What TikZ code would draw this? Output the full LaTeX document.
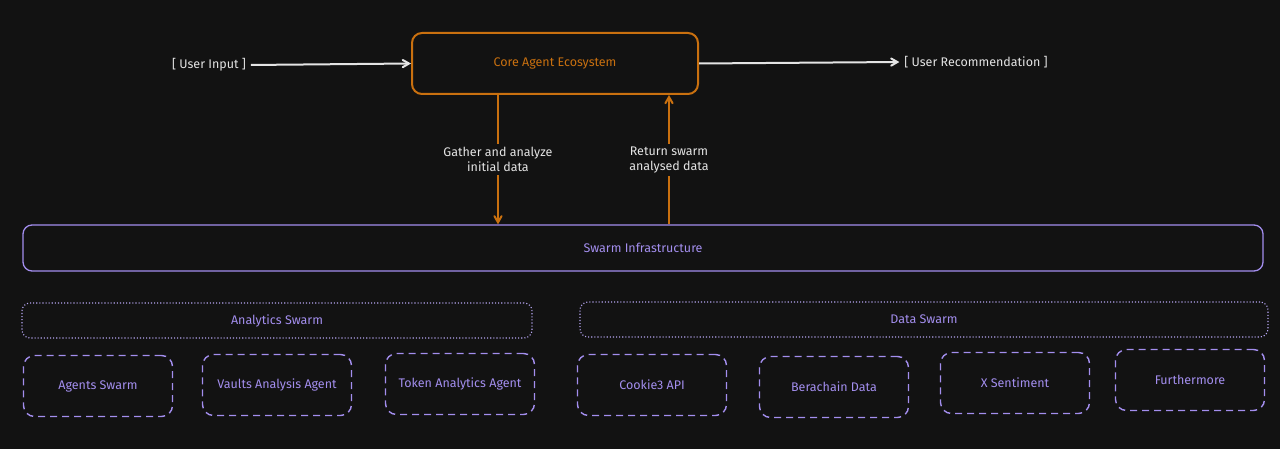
\documentclass[tikz,border=0pt]{standalone}
\usepackage{fontspec}
\setmainfont{Fira Sans}
\usetikzlibrary{%
  arrows,%
  positioning% wg. " of "
}
\definecolor{bgdark}{HTML}{121212}
\definecolor{coreorange}{HTML}{C9700F}
\definecolor{swarmviolet}{HTML}{A38EEE}
\definecolor{inkwhite}{HTML}{E4E4E4}

\begin{document}
\begin{tikzpicture}[
  x=1pt, y=-1pt,
  font=\fontsize{12.5}{15}\selectfont,
  >=angle 60,
  line width=1.2pt,
  corebox/.style={draw=coreorange, text=coreorange, line width=2pt,
    rounded corners=10pt, minimum width=286pt, minimum height=61pt},
  infrabox/.style={draw=swarmviolet, text=swarmviolet, line width=1.3pt,
    rounded corners=9pt, minimum width=1240pt, minimum height=46pt},
  groupbox/.style={draw=swarmviolet!80, text=swarmviolet, dotted, line width=1.1pt,
    rounded corners=8pt, minimum height=35pt},
  agentbox/.style={draw=swarmviolet, text=swarmviolet, line width=1.4pt,
    dash pattern=on 7pt off 5pt, rounded corners=11pt,
    minimum width=149pt, minimum height=61pt},
  endlabel/.style={text=inkwhite},
  flowlabel/.style={text=inkwhite, fill=bgdark, align=center, inner sep=3pt},
]

\fill[bgdark] (0,0) rectangle (1280,449);

% top row
\node[corebox] (core) at (555,63.5) {Core Agent Ecosystem};
\node[endlabel] (userin) at (209,65) {[ User Input ]};
\node[endlabel] (userrec) at (976,62) {[ User Recommendation ]};

\draw[->, inkwhite, line width=2pt, shorten <=1pt] (userin.east) -- (core.west);
\draw[->, inkwhite, line width=2pt, shorten >=1pt] (core.east) -- (userrec.west);

% swarm layer
\node[infrabox] (infra) at (643,248) {Swarm Infrastructure};

\draw[->, coreorange, line width=2pt] ([xshift=-57pt]core.south)
  -- node[flowlabel] {Gather and analyze\\initial data}
  ([xshift=-57pt]core.south |- infra.north);
\draw[->, coreorange, line width=2pt] ([xshift=114pt]core.south |- infra.north)
  -- node[flowlabel] {Return swarm\\analysed data}
  ([xshift=114pt]core.south);

% groups
\node[groupbox, minimum width=510pt] (analytics) at (277,320.5) {Analytics Swarm};
\node[groupbox, minimum width=688pt] (dataswarm) at (924,319.5) {Data Swarm};

% agents
\foreach \name/\xc/\yc/\txt in {%
  agents/98/386/Agents Swarm,%
  vaults/277/385/Vaults Analysis Agent,%
  token/460/384/Token Analytics Agent,%
  cookie/652/385/Cookie3 API,%
  bera/834/387/Berachain Data,%
  xsent/1015/383/X Sentiment,%
  further/1190/380/Furthermore%
} {
  \node[agentbox] (\name) at (\xc,\yc) {\txt};
}

\end{tikzpicture}
\end{document}
